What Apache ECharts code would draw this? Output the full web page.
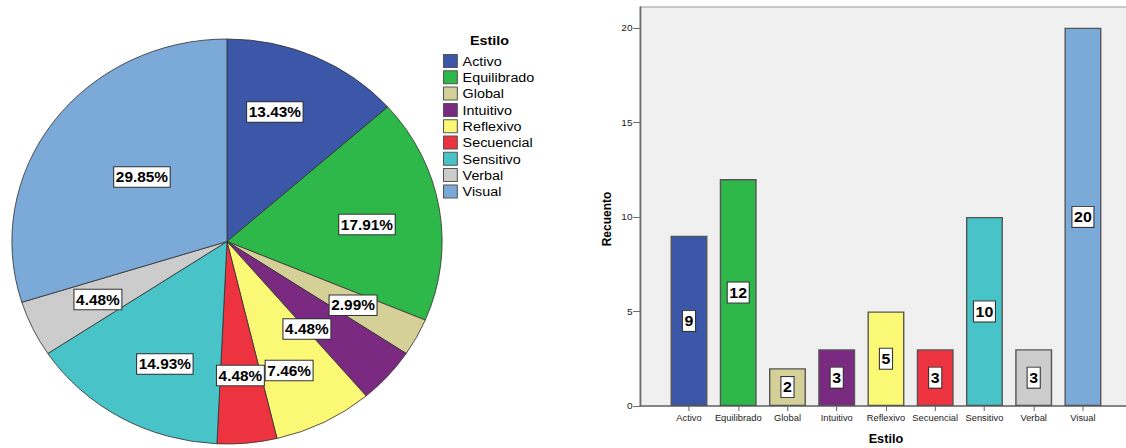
<!DOCTYPE html>
<html>
<head>
<meta charset="utf-8">
<title>Estilo</title>
<script src="https://cdn.jsdelivr.net/npm/echarts@6/dist/echarts.min.js"></script>
<style>
  html, body { margin: 0; padding: 0; background: #fff; overflow: hidden; }
  /* The figure is laid out on a 1060px canvas and widened to the 1126px page. */
  #chart {
    position: absolute; left: 0; top: 0;
    width: 1060px; height: 448px;
    transform: scaleX(1.0623); transform-origin: 0 0;
  }
</style>
</head>
<body>
<div id="chart"></div>
<script>
// Learning styles and the number of students with each one.
const estilos = ['Activo', 'Equilibrado', 'Global', 'Intuitivo', 'Reflexivo', 'Secuencial', 'Sensitivo', 'Verbal', 'Visual'];
const recuento = [9, 12, 2, 3, 5, 3, 10, 3, 20];
const colores = ['#3C56A8', '#2EB84A', '#D5CF98', '#7B2A82', '#FBF875', '#EE3340', '#48C3C7', '#CCCCCC', '#7BA9D8'];
const ticksRecuento = [0, 5, 10, 15, 20];

// Layout settings.
const FONT = '"Liberation Sans", Arial, sans-serif';
const PIE_CENTER = [213.7, 241.5];
const PIE_RADIUS = 202.5;
// Percentage boxes: [fraction of the radius, turn in degrees from the slice's middle].
const labelSpot = {
  Activo: [0.677, -5], Equilibrado: [0.656, 2], Intuitivo: [0.57, 7.7], Reflexivo: [0.70, 2.5],
  Sensitivo: [0.67, -4], Visual: [0.508, 2.6]
};
const defaultSpot = [0.665, 0];

const total = recuento.reduce((a, b) => a + b, 0);
const midAngles = [];
recuento.reduce((acc, v) => { midAngles.push((acc + v / 2) / total * 360); return acc + v; }, 0);

const chart = echarts.init(document.getElementById('chart'), null, { renderer: 'svg' });

const boxLabel = {
  show: true,
  position: 'inside',
  backgroundColor: '#fff',
  borderColor: '#333',
  borderWidth: 1,
  color: '#000',
  fontWeight: 'bold',
  fontFamily: FONT
};

chart.setOption({
  animation: false,
  color: colores,
  textStyle: { fontFamily: FONT },
  legend: {
    data: estilos,
    orient: 'vertical',
    left: 417,
    top: 54,
    padding: 0,
    itemWidth: 13,
    itemHeight: 13,
    itemGap: 2.3,
    icon: 'rect',
    selectedMode: false,
    itemStyle: { borderColor: '#555', borderWidth: 1 },
    textStyle: { fontSize: 13.5, color: '#000', fontFamily: FONT }
  },
  graphic: [
    {
      type: 'text',
      x: 460.8, y: 40,
      style: {
        text: 'Estilo', fill: '#000', fontFamily: FONT, fontSize: 13.5, fontWeight: 'bold',
        align: 'center', verticalAlign: 'middle'
      }
    },
    {
      type: 'text',
      x: 571.4, y: 219, rotation: Math.PI / 2,
      style: {
        text: 'Recuento', fill: '#000', fontFamily: FONT, fontSize: 12, fontWeight: 'bold',
        align: 'center', verticalAlign: 'middle'
      }
    }
  ],
  grid: [
    // frame with the grey plot background and the value axis
    { left: 602.5, right: -2, top: 7, bottom: 42, outerBoundsMode: 'none', show: true, backgroundColor: '#F0F0F0', borderColor: '#999', borderWidth: 1 },
    // band area holding the bars
    { left: 625.4, right: 17.4, top: 7, bottom: 42, outerBoundsMode: 'none' }
  ],
  xAxis: [
    {
      gridIndex: 0, type: 'value', min: 0, max: 1,
      axisLine: { show: true, lineStyle: { color: '#6d6d6d', width: 1.5 } },
      axisTick: { show: false }, axisLabel: { show: false }, splitLine: { show: false }
    },
    {
      gridIndex: 1, type: 'category', data: estilos,
      axisLine: { show: false },
      axisTick: { show: true, alignWithLabel: true, interval: 0, length: 5, lineStyle: { color: '#6d6d6d', width: 1 } },
      axisLabel: { interval: 0, margin: 8, fontSize: 8.8, color: '#222', fontFamily: FONT },
      name: 'Estilo', nameLocation: 'middle', nameGap: 27,
      nameTextStyle: { fontSize: 12, fontWeight: 'bold', color: '#000', fontFamily: FONT }
    }
  ],
  yAxis: [
    {
      gridIndex: 0, type: 'value', min: 0, max: 21.1,
      axisLine: { show: true, lineStyle: { color: '#6d6d6d', width: 1.5 } },
      axisTick: { show: true, length: 6.5, customValues: ticksRecuento, lineStyle: { color: '#6d6d6d', width: 1 } },
      axisLabel: { margin: 7, fontSize: 9.5, color: '#222', fontFamily: FONT, customValues: ticksRecuento },
      splitLine: { show: false }
    },
    { gridIndex: 1, type: 'value', min: 0, max: 21.1, show: false }
  ],
  series: [
    {
      type: 'pie',
      center: PIE_CENTER,
      radius: PIE_RADIUS,
      startAngle: 90,
      clockwise: true,
      avoidLabelOverlap: false,
      emphasis: { disabled: true },
      itemStyle: { borderColor: '#333', borderWidth: 0.8 },
      label: Object.assign({}, boxLabel, {
        formatter: p => (p.value / total * 100).toFixed(2) + '%',
        fontSize: 14.5, lineHeight: 15, padding: [2.5, 1.5, 2, 1.5]
      }),
      labelLine: { show: false },
      labelLayout: function (p) {
        const spot = labelSpot[estilos[p.dataIndex]] || defaultSpot;
        const a = (midAngles[p.dataIndex] + spot[1]) * Math.PI / 180;
        const d = PIE_RADIUS * spot[0];
        return {
          x: PIE_CENTER[0] + d * Math.sin(a),
          y: PIE_CENTER[1] - d * Math.cos(a)
        };
      },
      data: estilos.map((n, i) => ({ name: n, value: recuento[i] }))
    },
    {
      type: 'bar',
      xAxisIndex: 1,
      yAxisIndex: 1,
      colorBy: 'data',
      barWidth: '75%',
      emphasis: { disabled: true },
      itemStyle: { borderColor: '#555', borderWidth: 1.3 },
      label: Object.assign({}, boxLabel, {
        formatter: '{c}', fontSize: 15, lineHeight: 16, padding: [2, 1.5, 2, 1.5]
      }),
      data: recuento
    }
  ]
});
</script>
</body>
</html>
